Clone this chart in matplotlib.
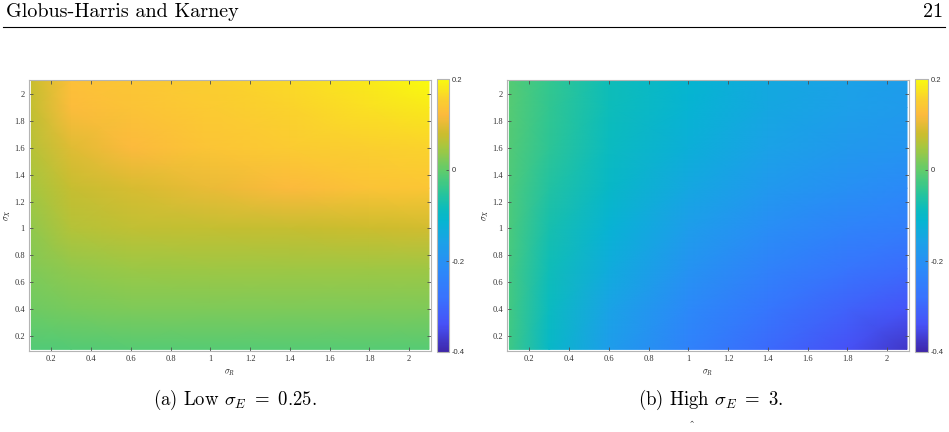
import numpy as np
import matplotlib
matplotlib.use("Agg")
import matplotlib.pyplot as plt
from matplotlib.colors import LinearSegmentedColormap
from matplotlib.ticker import FuncFormatter

# ---------------- Data ---------------- #
sigR = [0.1, 0.3, 0.6, 1.0, 1.4, 1.8, 2.1]          # x nodes
sigX = [0.1, 0.4, 0.7, 1.0, 1.3, 1.6, 1.9, 2.1]     # y nodes

# (a) low sigma_E = 0.25, rows follow sigX
lowE = [
    [-0.015, -0.012, -0.010, -0.010, -0.010, -0.010, -0.010],
    [ 0.008,  0.016,  0.020,  0.020,  0.020,  0.020,  0.020],
    [ 0.022,  0.035,  0.042,  0.045,  0.045,  0.045,  0.045],
    [ 0.035,  0.060,  0.070,  0.072,  0.075,  0.080,  0.085],
    [ 0.050,  0.075,  0.088,  0.105,  0.122,  0.135,  0.140],
    [ 0.062,  0.095,  0.122,  0.138,  0.148,  0.155,  0.160],
    [ 0.072,  0.125,  0.136,  0.148,  0.158,  0.172,  0.182],
    [ 0.076,  0.132,  0.140,  0.152,  0.165,  0.182,  0.200],
]

# (b) high sigma_E = 3, rows follow sigX
highE = [
    [-0.030, -0.100, -0.170, -0.240, -0.295, -0.340, -0.375],
    [-0.027, -0.090, -0.155, -0.220, -0.270, -0.310, -0.335],
    [-0.024, -0.080, -0.135, -0.195, -0.240, -0.272, -0.290],
    [-0.020, -0.070, -0.118, -0.168, -0.210, -0.238, -0.252],
    [-0.016, -0.058, -0.100, -0.145, -0.180, -0.205, -0.218],
    [-0.012, -0.048, -0.090, -0.128, -0.158, -0.178, -0.190],
    [-0.010, -0.042, -0.083, -0.115, -0.145, -0.163, -0.175],
    [-0.010, -0.040, -0.080, -0.110, -0.140, -0.158, -0.168],
]

ticks = [0.2, 0.4, 0.6, 0.8, 1.0, 1.2, 1.4, 1.6, 1.8, 2.0]
cbTicks = [-0.4, -0.2, 0, 0.2]

# parula-like colormap
parula = LinearSegmentedColormap.from_list("parula", [
    (0.00, (0.243, 0.150, 0.660)),
    (0.10, (0.278, 0.320, 0.970)),
    (0.20, (0.220, 0.450, 0.995)),
    (0.30, (0.170, 0.540, 0.975)),
    (0.40, (0.110, 0.630, 0.910)),
    (0.48, (0.020, 0.710, 0.820)),
    (0.53, (0.050, 0.740, 0.730)),
    (0.60, (0.200, 0.780, 0.560)),
    (0.667, (0.380, 0.800, 0.420)),
    (0.75, (0.650, 0.780, 0.250)),
    (0.80, (0.800, 0.740, 0.180)),
    (0.87, (0.990, 0.730, 0.240)),
    (0.93, (0.980, 0.820, 0.180)),
    (1.00, (0.976, 0.983, 0.054)),
])

plt.rcParams["mathtext.fontset"] = "cm"
plt.rcParams["axes.unicode_minus"] = False

W, H = 949, 432
fig = plt.figure(figsize=(W / 100, H / 100), dpi=100)

def box(x0, y0, x1, y1):
    return [x0 / W, 1 - y1 / H, (x1 - x0) / W, (y1 - y0) / H]

fmt = FuncFormatter(lambda v, p: f"{v:g}")
frameCol = "#b4b4b4"
tickCol = "#505050"

panels = [
    (lowE, box(29, 80, 431, 351), box(437, 79, 449, 352), 235, r"(a) Low $\sigma_E\ =\ 0.25$."),
    (highE, box(507, 80, 909, 351), box(915, 79, 928, 352), 711, r"(b) High $\sigma_E\ =\ 3$."),
]

for Z, axPos, cbPos, xc, caption in panels:
    ax = fig.add_axes(axPos)
    mesh = ax.pcolormesh(sigR, sigX, np.array(Z), shading="gouraud",
                         cmap=parula, vmin=-0.4, vmax=0.2)
    ax.set_xlim(0.088, 2.11)
    ax.set_ylim(0.088, 2.105)
    ax.set_xticks(ticks)
    ax.set_yticks(ticks)
    ax.xaxis.set_major_formatter(fmt)
    ax.yaxis.set_major_formatter(fmt)
    ax.tick_params(direction="in", length=3, width=0.6, color=tickCol,
                   top=True, right=True, labelsize=6, pad=3)
    for lab in ax.get_xticklabels() + ax.get_yticklabels():
        lab.set_fontfamily("Liberation Serif")
        lab.set_color("#333333")
    for s in ax.spines.values():
        s.set_color(frameCol)
        s.set_linewidth(0.8)
    ax.set_xlabel(r"$\sigma_R$", fontsize=6, labelpad=3)
    ax.set_ylabel(r"$\sigma_X$", fontsize=6, labelpad=1)

    cax = fig.add_axes(cbPos)
    cb = fig.colorbar(mesh, cax=cax, ticks=cbTicks)
    cb.ax.yaxis.set_major_formatter(fmt)
    cb.ax.tick_params(direction="in", length=2, width=0.6, color=tickCol,
                      labelsize=5.5, pad=2)
    for lab in cb.ax.get_yticklabels():
        lab.set_fontfamily("Liberation Sans")
        lab.set_color("#333333")
    cb.outline.set_edgecolor(frameCol)
    cb.outline.set_linewidth(0.8)

    fig.text(xc / W, 1 - 400 / H, caption, ha="center", va="center",
             fontsize=13.5, family="cmr10")

# page header
fig.text(6 / W, 1 - 12 / H, "Globus-Harris and Karney", ha="left", va="center",
         fontsize=14.5, family="cmr10")
fig.text(943 / W, 1 - 12 / H, "21", ha="right", va="center",
         fontsize=14.5, family="cmr10")
fig.add_artist(plt.Line2D([3 / W, 945 / W], [1 - 27 / H, 1 - 27 / H],
                          color="black", linewidth=0.8))
fig.text(692 / W, 1 - 421 / H, "^", ha="center", va="top",
         fontsize=9, family="cmr10")

fig.savefig("out.png", dpi=100)
